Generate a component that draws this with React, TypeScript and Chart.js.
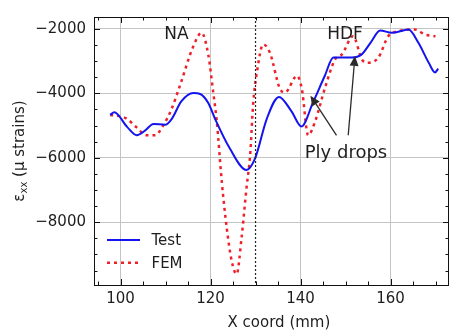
import React, { useEffect, useRef } from 'react';
import { Chart, registerables } from 'chart.js';

Chart.register(...registerables);

// ---------- data ----------
const TEST_X = [97.7, 98.6, 101.5, 103.6, 105.5, 107.3, 109.9, 111.4, 113.5, 116.2, 117.7, 119.5, 121.0, 124.3, 128.0, 129.9, 132.5, 135.2, 138.0, 140.2, 142.8, 145.4, 147.3, 151.4, 153.6, 155.7, 157.7, 160.3, 164.0, 166.2, 168.5, 169.9, 170.6];
const TEST_Y = [-4670, -4590, -5050, -5300, -5150, -4950, -4975, -4790, -4250, -3990, -4020, -4300, -4790, -5715, -6380, -6020, -4790, -4110, -4560, -5030, -4275, -3455, -2890, -2890, -2790, -2400, -2050, -2120, -2020, -2430, -3050, -3350, -3230];

const FEM_X = [97.7, 99.5, 101.4, 103.5, 105.8, 107.7, 109.5, 111.3, 113.2, 116.2, 118.0, 119.5, 120.6, 121.4, 122.5, 123.6, 124.7, 125.8, 126.9, 128.0, 128.8, 129.5, 130.3, 131.7, 133.2, 135.4, 136.6, 139.2, 140.3, 141.7, 143.2, 145.5, 147.7, 149.2, 151.7, 153.6, 154.7, 157.3, 159.5, 161.7, 165.4, 167.7, 170.0];
const FEM_Y = [-4670, -4700, -4790, -5050, -5300, -5300, -4990, -4500, -3760, -2530, -2120, -2800, -3970, -4890, -6740, -8175, -9200, -9610, -8480, -6930, -5920, -4275, -3350, -2480, -2740, -3850, -3970, -3455, -3870, -5300, -4890, -3800, -2940, -2790, -2225, -2940, -3050, -2890, -2225, -2070, -2020, -2175, -2225];

const SERIES_LABELS = ['Test', 'FEM'];
const X_TICKS = [100, 120, 140, 160];
const Y_TICKS = [-8000, -6000, -4000, -2000];
const X_RANGE = [94.1, 173];
const Y_RANGE = [-9950, -1630];
const MARKER_X = 130;

const NOTE_TEXT = ['NA', 'HDF', 'Ply drops'];
const NOTE_X = [112.4, 149.9, 150.1];
const NOTE_Y = [-2320, -2300, -6020];

const ARROW_TAIL_X = [148.0, 150.6];
const ARROW_TAIL_Y = [-5302, -5302];
const ARROW_HEAD_X = [142.2, 152.1];
const ARROW_HEAD_Y = [-4071, -2840];

const X_TITLE = 'X coord (mm)';
const X_TITLE_AT = 135.2;

const BLUE = '#1414ee';
const RED = '#f0202a';
const TEXT = '#1e1e1e';
const FONT = 'DejaVu Sans';

const fmt = (v: number) => (v < 0 ? '\u2212' + Math.abs(v) : String(v));

const decor = {
  id: 'decor',
  afterDraw(chart: any) {
    const ctx = chart.ctx as CanvasRenderingContext2D;
    const a = chart.chartArea;
    const xs = chart.scales.x;
    const ys = chart.scales.y;
    ctx.save();

    // vertical marker
    ctx.save();
    ctx.beginPath();
    ctx.rect(a.left, a.top, a.right - a.left, a.bottom - a.top);
    ctx.clip();
    ctx.strokeStyle = '#222';
    ctx.lineWidth = 1.2;
    ctx.setLineDash([2, 2]);
    const mx = xs.getPixelForValue(MARKER_X);
    ctx.beginPath();
    ctx.moveTo(mx, a.top);
    ctx.lineTo(mx, a.bottom);
    ctx.stroke();
    ctx.restore();

    // frame
    ctx.strokeStyle = '#111';
    ctx.lineWidth = 1;
    ctx.setLineDash([]);
    ctx.strokeRect(a.left + 0.5, a.top + 0.5, a.right - a.left - 1, a.bottom - a.top);

    // inward ticks
    ctx.beginPath();
    for (let v = 95; v <= X_RANGE[1]; v += 5) {
      const p = Math.round(xs.getPixelForValue(v)) + 0.5;
      const len = v % 20 === 0 ? 6 : 3.5;
      ctx.moveTo(p, a.bottom);
      ctx.lineTo(p, a.bottom - len);
      ctx.moveTo(p, a.top);
      ctx.lineTo(p, a.top + len);
    }
    for (let v = -9500; v <= Y_RANGE[1]; v += 500) {
      const p = Math.round(ys.getPixelForValue(v)) + 0.5;
      const len = v % 2000 === 0 ? 6 : 3.5;
      ctx.moveTo(a.left, p);
      ctx.lineTo(a.left + len, p);
      ctx.moveTo(a.right, p);
      ctx.lineTo(a.right - len, p);
    }
    ctx.stroke();

    // arrows
    ctx.strokeStyle = '#2a2a2a';
    ctx.fillStyle = '#2a2a2a';
    ctx.lineWidth = 1.3;
    for (let i = 0; i < ARROW_TAIL_X.length; i++) {
      const tx = xs.getPixelForValue(ARROW_TAIL_X[i]);
      const ty = ys.getPixelForValue(ARROW_TAIL_Y[i]);
      const hx = xs.getPixelForValue(ARROW_HEAD_X[i]);
      const hy = ys.getPixelForValue(ARROW_HEAD_Y[i]);
      const ang = Math.atan2(hy - ty, hx - tx);
      const L = 10, W = 4.5;
      const bx = hx - L * Math.cos(ang);
      const by = hy - L * Math.sin(ang);
      ctx.beginPath();
      ctx.moveTo(tx, ty);
      ctx.lineTo(bx, by);
      ctx.stroke();
      ctx.beginPath();
      ctx.moveTo(hx, hy);
      ctx.lineTo(bx + W * Math.sin(ang), by - W * Math.cos(ang));
      ctx.lineTo(bx - W * Math.sin(ang), by + W * Math.cos(ang));
      ctx.closePath();
      ctx.fill();
    }

    // notes
    ctx.fillStyle = TEXT;
    ctx.textAlign = 'center';
    ctx.textBaseline = 'alphabetic';
    for (let i = 0; i < NOTE_TEXT.length; i++) {
      ctx.font = `${i === 2 ? 18 : 17}px "${FONT}"`;
      ctx.fillText(NOTE_TEXT[i], xs.getPixelForValue(NOTE_X[i]), ys.getPixelForValue(NOTE_Y[i]));
    }

    // legend
    const ds = chart.data.datasets;
    const rows = [240, 262.7];
    ctx.font = `15px "${FONT}"`;
    ctx.textAlign = 'left';
    ctx.textBaseline = 'middle';
    for (let i = 0; i < ds.length; i++) {
      ctx.strokeStyle = ds[i].borderColor;
      ctx.lineWidth = ds[i].borderWidth;
      ctx.setLineDash(ds[i].borderDash || []);
      ctx.beginPath();
      ctx.moveTo(107, rows[i]);
      ctx.lineTo(140, rows[i]);
      ctx.stroke();
      ctx.setLineDash([]);
      ctx.fillStyle = TEXT;
      ctx.fillText(ds[i].label, 151.5, rows[i] + 1);
    }

    // x title
    ctx.textAlign = 'center';
    ctx.textBaseline = 'middle';
    ctx.font = `15px "${FONT}"`;
    ctx.fillText(X_TITLE, xs.getPixelForValue(X_TITLE_AT), 323);

    // y title (rotated, with subscript)
    ctx.save();
    ctx.translate(20, (a.top + a.bottom) / 2);
    ctx.rotate(-Math.PI / 2);
    ctx.textAlign = 'left';
    ctx.textBaseline = 'middle';
    const big = `15px "${FONT}"`;
    const small = `10px "${FONT}"`;
    ctx.font = big;
    const w1 = ctx.measureText('\u03b5').width;
    const w3 = ctx.measureText(' (\u03bc strains)').width;
    ctx.font = small;
    const w2 = ctx.measureText('xx').width;
    let x0 = -(w1 + w2 + w3) / 2;
    ctx.font = big;
    ctx.fillText('\u03b5', x0, 0);
    x0 += w1;
    ctx.font = small;
    ctx.fillText('xx', x0, 4);
    x0 += w2;
    ctx.font = big;
    ctx.fillText(' (\u03bc strains)', x0, 0);
    ctx.restore();

    ctx.restore();
  },
};

export default function App() {
  const ref = useRef<HTMLCanvasElement | null>(null);
  useEffect(() => {
    if (!ref.current) return;
    const chart = new Chart(ref.current, {
      type: 'line',
      data: {
        datasets: [
          {
            label: SERIES_LABELS[0],
            data: TEST_X.map((x, i) => ({ x, y: TEST_Y[i] })),
            borderColor: BLUE,
            borderWidth: 2,
            pointRadius: 0,
            cubicInterpolationMode: 'monotone',
            fill: false,
          },
          {
            label: SERIES_LABELS[1],
            data: FEM_X.map((x, i) => ({ x, y: FEM_Y[i] })),
            borderColor: RED,
            borderWidth: 2.5,
            borderDash: [3, 4],
            pointRadius: 0,
            cubicInterpolationMode: 'monotone',
            fill: false,
          },
        ],
      },
      options: {
        animation: false,
        responsive: false,
        events: [],
        layout: { padding: { top: 14, right: 0, left: 0, bottom: 0 } },
        plugins: { legend: { display: false }, tooltip: { enabled: false }, title: { display: false } },
        scales: {
          x: {
            type: 'linear',
            min: X_RANGE[0],
            max: X_RANGE[1],
            afterBuildTicks: (s: any) => {
              s.ticks = X_TICKS.map((v) => ({ value: v }));
            },
            afterFit: (s: any) => {
              s.height = 48;
            },
            grid: { color: '#c4c4c4', lineWidth: 1, drawTicks: false },
            border: { display: false },
            ticks: {
              padding: 5,
              color: TEXT,
              font: { family: FONT, size: 15 },
              maxRotation: 0,
              callback: (v: any) => fmt(Number(v)),
            },
          },
          y: {
            type: 'linear',
            min: Y_RANGE[0],
            max: Y_RANGE[1],
            afterBuildTicks: (s: any) => {
              s.ticks = Y_TICKS.map((v) => ({ value: v }));
            },
            afterFit: (s: any) => {
              s.width = 94;
            },
            grid: { color: '#c4c4c4', lineWidth: 1, drawTicks: false },
            border: { display: false },
            ticks: {
              padding: 8,
              color: TEXT,
              font: { family: FONT, size: 15 },
              callback: (v: any) => fmt(Number(v)),
            },
          },
        },
      },
      plugins: [decor],
    } as any);
    return () => chart.destroy();
  }, []);
  return (
    <div style={{ position: 'absolute', left: 0, top: 0, width: 449, height: 333, background: '#fff' }}>
      <canvas ref={ref} width={449} height={333} style={{ display: 'block' }} />
    </div>
  );
}
